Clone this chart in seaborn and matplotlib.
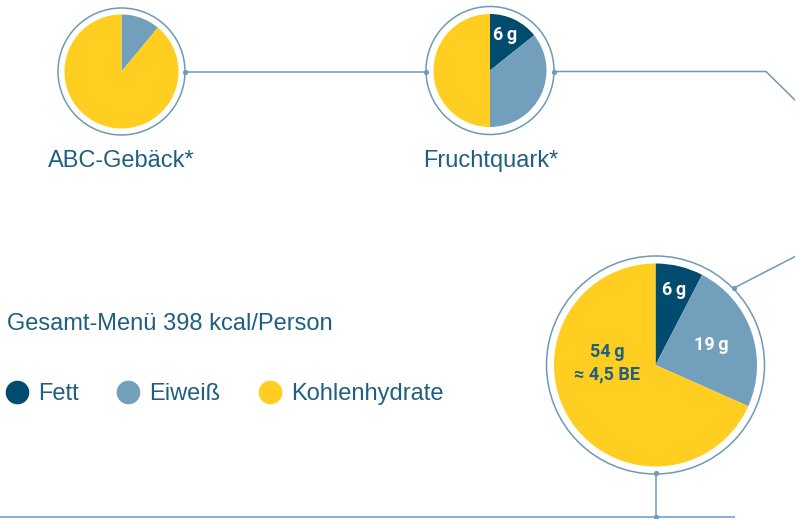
# Nährwert-Menü: drei Tortendiagramme mit Verbindungslinien
import matplotlib
matplotlib.use("Agg")
import matplotlib.pyplot as plt
from matplotlib.lines import Line2D
from matplotlib.patches import Circle
import numpy as np
import seaborn as sns

# Daten
nutrients = ["Fett", "Eiweiß", "Kohlenhydrate"]
abc_values = [0, 11, 89]          # ABC-Gebäck (Anteile)
quark_values = [6, 15, 21]        # Fruchtquark (g)
menu_values = [6, 19, 54]         # Gesamt-Menü (g)
quark_labels = ["6\u2009g", "", ""]
menu_labels = ["6\u2009g", "19\u2009g", "54\u2009g\n≈ 4,5 BE"]
titles = ["ABC-Gebäck*", "Fruchtquark*", "Gesamt-Menü 398 kcal/Person"]

sns.set_theme(style="white")
plt.rcParams["font.family"] = ["Liberation Sans", "DejaVu Sans"]

colors = sns.color_palette(["#004b6e", "#719fbc", "#ffce21"])
ring_col = "#6e99b8"
text_col = "#1f5f80"
fs = 17

W, H = 795, 519
fig = plt.figure(figsize=(W / 100, H / 100), dpi=100)
ax = fig.add_axes([0, 0, 1, 1])


def draw_pie(values, cx, cy, r, ring_r, labels=None, label_cols=None, label_pos=None):
    wedges, _ = ax.pie(values, colors=colors, startangle=90, counterclock=False,
                       center=(cx, cy), radius=r, frame=True,
                       wedgeprops=dict(linewidth=0))
    ax.add_patch(Circle((cx, cy), ring_r, fill=False, edgecolor=ring_col, lw=1.1))
    if labels:
        for w, lab, col, (f, a) in zip(wedges, labels, label_cols, label_pos):
            if not lab:
                continue
            if a is None:
                a = (w.theta1 + w.theta2) / 2
            ang = np.deg2rad(a)
            ax.text(cx + f * r * np.cos(ang), cy + f * r * np.sin(ang), lab,
                    ha="center", va="center", color=col, fontsize=13,
                    fontweight="bold", linespacing=1.35,
                    family=["Roboto", "DejaVu Sans"])
    return wedges


# Verbindungslinien
line_kw = dict(color=ring_col, lw=1.1, solid_capstyle="butt")
ax.plot([185, 426], [447.5, 447.5], **line_kw)
ax.plot([554, 766, 800, 800, 734], [447.5, 447.5, 414, 265, 231], **line_kw)
ax.plot([655.5, 655.5], [46, 2], **line_kw)
ax.plot([0, 735], [2, 2], **line_kw)
ax.scatter([185, 426, 554, 734, 655.5, 655.5], [447.5, 447.5, 447.5, 231, 46, 2],
           s=14, color=ring_col, zorder=5, linewidths=0)

draw_pie(abc_values, 121.5, 447.5, 57, 63.5)
draw_pie(quark_values, 490, 448.5, 56.5, 64, quark_labels,
         ["white", "white", text_col], [(0.68, 67), (0.6, None), (0.5, None)])
draw_pie(menu_values, 655.5, 154, 101.5, 109, menu_labels,
         ["white", "white", text_col], [(0.76, None), (0.58, None), (0.48, 178)])

# Titel
ax.text(121, 358, titles[0], ha="center", va="center", color=text_col, fontsize=fs)
ax.text(491, 358, titles[1], ha="center", va="center", color=text_col, fontsize=fs)
ax.text(7, 195, titles[2], ha="left", va="center", color=text_col, fontsize=fs)

# Legende
handles = [Line2D([], [], marker="o", ls="", markersize=16, color=c) for c in colors]
leg = ax.legend(handles, nutrients, loc="center left", bbox_to_anchor=(0.0065, 0.241),
                ncol=3, frameon=False, fontsize=fs, handletextpad=0.39,
                columnspacing=1.6, handlelength=1.0, borderpad=0, borderaxespad=0)
for t in leg.get_texts():
    t.set_color(text_col)

ax.set_xlim(0, W)
ax.set_ylim(0, H)
ax.set_aspect("auto")
ax.axis("off")

fig.savefig("out.png", dpi=100)
